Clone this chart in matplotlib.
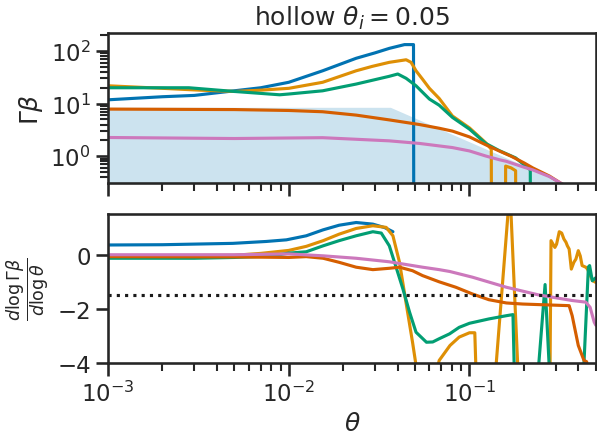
import numpy as np
import matplotlib
matplotlib.use('Agg')
import matplotlib.pyplot as plt
import seaborn as sns

sns.set_theme(context='talk', style='ticks', palette='colorblind')

# ---- top panel: Gamma*beta vs theta ----
th_blue = [0.001, 0.002, 0.003, 0.005, 0.007, 0.01, 0.0154, 0.0236, 0.03, 0.036, 0.0437, 0.049, 0.0492]
gb_blue = [11.8, 13.5, 14.3, 17.5, 20, 25.4, 42, 72.6, 92, 112, 132, 132, 0.01]

th_orange = [0.001, 0.002, 0.0032, 0.005, 0.007, 0.01, 0.0154, 0.0236, 0.029, 0.036, 0.0446, 0.0475,
             0.0506, 0.055, 0.06, 0.068, 0.0805, 0.1, 0.123, 0.132, 0.1325, 0.158, 0.1585, 0.17, 0.18, 0.1805]
gb_orange = [21.8, 19.5, 18, 17, 18, 19.5, 25.4, 42, 51, 60.8, 68, 60.8,
             42, 29, 19.5, 12.5, 5.8, 3.45, 1.8, 1.36, 0.01, 0.01, 0.65, 0.6, 0.53, 0.01]

th_green = [0.001, 0.0028, 0.005, 0.0089, 0.01, 0.0154, 0.0236, 0.036, 0.0401, 0.0446, 0.0506, 0.06,
            0.068, 0.0805, 0.1, 0.123, 0.146, 0.18, 0.217, 0.2175]
gb_green = [20, 20, 17, 14.7, 15.2, 17.5, 23.5, 33, 36.5, 30.2, 21.8, 12.2,
            9.3, 5.46, 3.27, 1.75, 1.28, 0.93, 0.55, 0.01]

th_red = [0.001, 0.005, 0.01, 0.0154, 0.0236, 0.036, 0.0529, 0.068, 0.0805, 0.1, 0.123, 0.146,
          0.17, 0.2, 0.224, 0.277, 0.314, 0.35]
gb_red = [7.86, 7.7, 7.4, 7.0, 6.04, 4.9, 4.0, 3.4, 3.0, 2.33, 1.65, 1.26,
          1.0, 0.75, 0.6, 0.42, 0.32, 0.25]

th_pink = [0.001, 0.003, 0.005, 0.01, 0.0154, 0.0236, 0.036, 0.0529, 0.068, 0.0805, 0.1, 0.123,
           0.146, 0.16, 0.2, 0.224, 0.277, 0.314, 0.35]
gb_pink = [2.27, 2.2, 2.17, 2.22, 2.25, 2.1, 1.96, 1.75, 1.57, 1.46, 1.26, 1.01,
           0.86, 0.8, 0.62, 0.55, 0.41, 0.32, 0.26]

# initial profile (shaded)
th_init = [0.001, 0.0365, 0.5]
gb_init = [8.5, 8.5, 0.168]

# ---- bottom panel: dlog(Gamma beta)/dlog(theta) ----
th_blue_d = [0.001, 0.002, 0.0049, 0.0075, 0.0097, 0.0125, 0.0155, 0.019, 0.0236, 0.0292, 0.034, 0.0377]
d_blue = [0.36, 0.37, 0.42, 0.49, 0.55, 0.70, 0.92, 1.09, 1.19, 1.13, 1.0, 0.85]

th_orange_d = [0.001, 0.005, 0.007, 0.01, 0.0125, 0.0155, 0.019, 0.0236, 0.0292, 0.0346, 0.0377, 0.041,
               0.0445, 0.0484, 0.052, 0.064, 0.068, 0.078, 0.0877, 0.1, 0.107, 0.109,
               0.1395, 0.1655, 0.1685, 0.1855, 0.279, 0.2826, 0.2968, 0.3033, 0.3139, 0.3237,
               0.333, 0.342, 0.348, 0.356, 0.366, 0.378, 0.388, 0.40, 0.41, 0.42, 0.44, 0.45, 0.48, 0.5]
d_orange = [-0.04, -0.02, 0.05, 0.16, 0.31, 0.52, 0.76, 0.97, 1.07, 1.01, 0.70, -0.28,
            -1.75, -3.23, -4.6, -4.6, -3.9, -3.35, -3.04, -2.88, -2.88, -4.6,
            -4.3, 2.0, 2.0, -4.3, -4.3, 0.52, 0.27, 0.39, 0.85, 0.80,
            0.58, 0.46, 0.33, 0.21, -0.53, -0.28, -0.16, 0.15, -0.04, -0.4, -0.46, -0.53, -0.96, -1.02]

th_green_d = [0.001, 0.003, 0.005, 0.008, 0.01, 0.0125, 0.0155, 0.019, 0.0236, 0.0292, 0.0325, 0.036,
              0.039, 0.0428, 0.0466, 0.0506, 0.0578, 0.0626, 0.068, 0.0776, 0.0877, 0.1, 0.128, 0.16,
              0.174, 0.177, 0.240, 0.262, 0.277, 0.428, 0.455, 0.462, 0.478, 0.5]
d_green = [-0.13, -0.13, -0.1, -0.05, 0.06, 0.11, 0.33, 0.52, 0.70, 0.85, 0.80, 0.33,
           -0.4, -1.26, -2.12, -2.86, -3.23, -3.22, -3.1, -2.92, -2.68, -2.53, -2.37, -2.25,
           -2.21, -4.3, -4.3, -1.1, -4.3, -4.3, -0.45, -0.4, -0.96, -0.85]

th_red_d = [0.001, 0.005, 0.01, 0.0125, 0.0155, 0.019, 0.0236, 0.0292, 0.036, 0.041, 0.0484, 0.055,
            0.068, 0.084, 0.104, 0.128, 0.16, 0.197, 0.24, 0.356, 0.37, 0.40, 0.43, 0.445, 0.45]
d_red = [-0.07, -0.08, -0.1, -0.07, -0.13, -0.28, -0.46, -0.55, -0.50, -0.46, -0.59, -0.77,
         -1.0, -1.20, -1.45, -1.66, -1.78, -1.82, -1.84, -1.88, -2.25, -3.35, -3.9, -3.95, -4.3]

th_pink_d = [0.001, 0.005, 0.01, 0.0155, 0.0236, 0.036, 0.055, 0.068, 0.078, 0.104, 0.16, 0.24,
             0.37, 0.44, 0.465, 0.49, 0.5]
d_pink = [0.0, 0.0, 0.03, -0.04, -0.13, -0.26, -0.46, -0.55, -0.62, -0.83, -1.20, -1.48,
          -1.69, -1.75, -1.94, -2.49, -2.6]

fig = plt.figure(figsize=(5.97, 4.35), dpi=100)
ax1 = fig.add_axes([0.181, 0.577, 0.817, 0.345])
ax2 = fig.add_axes([0.181, 0.163, 0.817, 0.3425], sharex=ax1)

lw = 2.25
ax1.fill_between(th_init, 1e-3, gb_init, color='C0', alpha=0.2, lw=0)
ax1.plot(th_blue, gb_blue, color='C0', lw=lw)
ax1.plot(th_orange, gb_orange, color='C1', lw=lw)
ax1.plot(th_green, gb_green, color='C2', lw=lw)
ax1.plot(th_red, gb_red, color='C3', lw=lw)
ax1.plot(th_pink, gb_pink, color='C4', lw=lw)
ax1.set_xscale('log')
ax1.set_yscale('log')
ax1.set_xlim(1e-3, 0.5)
ax1.set_ylim(0.31, 220)
ax1.set_ylabel(r'$\Gamma\beta$')
ax1.set_title(r'hollow $\theta_i = 0.05$')
plt.setp(ax1.get_xticklabels(), visible=False)

ax2.plot(th_blue_d, d_blue, color='C0', lw=lw)
ax2.plot(th_orange_d, d_orange, color='C1', lw=lw)
ax2.plot(th_green_d, d_green, color='C2', lw=lw)
ax2.plot(th_red_d, d_red, color='C3', lw=lw)
ax2.plot(th_pink_d, d_pink, color='C4', lw=lw)
ax2.axhline(-1.5, color='k', ls=':', lw=lw)
ax2.set_ylim(-4, 1.5)
ax2.set_yticks([0, -2, -4])
ax2.set_xlabel(r'$\theta$')
ax2.set_ylabel(r'$\frac{d\log\Gamma\beta}{d\log\theta}$')

fig.savefig('out.png', dpi=100)
